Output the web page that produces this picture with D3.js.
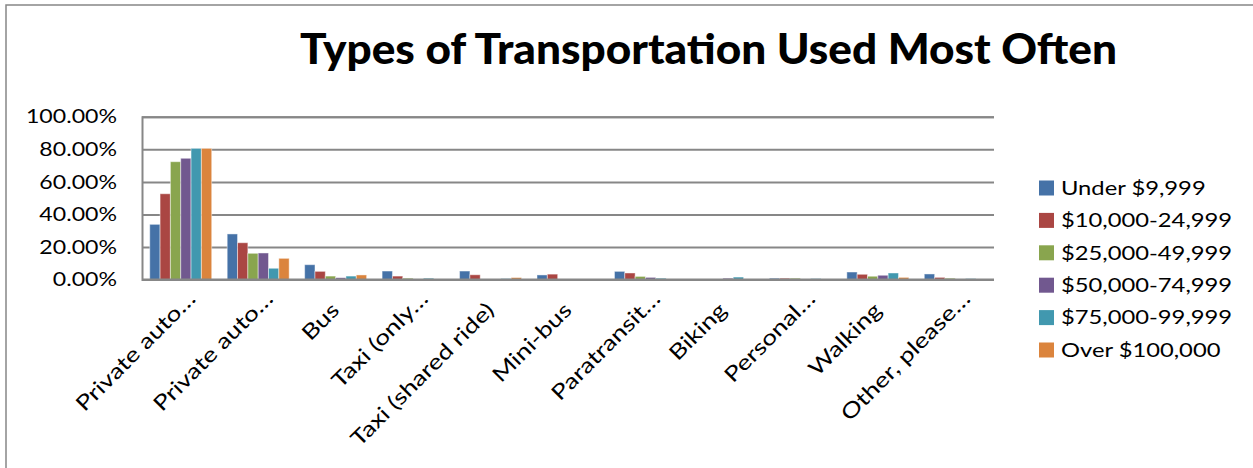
<!DOCTYPE html>
<html>
<head>
<meta charset="utf-8">
<script src="https://cdn.jsdelivr.net/npm/d3@7"></script>
<style>
  html, body { margin: 0; padding: 0; background: #fff; }
  svg { display: block; }
  text { font-family: Lato, "Noto Sans", sans-serif; fill: #000; }
</style>
</head>
<body>
<svg id="chart" width="1253" height="468"></svg>
<script>
// ---- data ----
const categories = ["Private auto…", "Private auto…", "Bus", "Taxi (only…", "Taxi (shared ride)",
  "Mini-bus", "Paratransit…", "Biking", "Personal…", "Walking", "Other, please…"];
const seriesNames = ["Under $9,999", "$10,000-24,999", "$25,000-49,999",
  "$50,000-74,999", "$75,000-99,999", "Over $100,000"];
const under10k   = [33.9, 28.0, 9.1, 5.2, 5.2, 2.8, 5.0, 0.0, 0.8, 4.6, 3.4];
const from10k    = [52.7, 22.6, 5.0, 2.1, 2.9, 3.3, 4.0, 0.0, 0.8, 3.2, 1.3];
const from25k    = [72.4, 16.1, 2.1, 0.8, 0.0, 0.0, 1.9, 0.3, 0.8, 2.0, 0.8];
const from50k    = [74.5, 16.3, 1.1, 0.0, 0.0, 0.0, 1.3, 0.8, 0.0, 2.6, 0.3];
const from75k    = [80.6, 6.9, 2.1, 0.8, 0.6, 0.0, 0.8, 1.5, 0.6, 4.0, 0.6];
const over100k   = [80.6, 13.0, 2.8, 0.0, 1.2, 0.0, 0.0, 0.0, 0.0, 1.3, 0.0];
const seriesValues = [under10k, from10k, from25k, from50k, from75k, over100k];
const yTicks = [0, 20, 40, 60, 80, 100];
const colors = ["#4572A7", "#AA4643", "#89A54E", "#71588F", "#4198AF", "#DB843D"];

// ---- layout ----
const svg = d3.select("#chart");
const plot = { left: 142, right: 994, top: 116.8, bottom: 279.5 };
const SX = 1.25;        // horizontal glyph stretch seen in the reference
const gridColor = "#878787";

// outer chart border (extends past the window at right/bottom)
svg.append("rect").attr("x", 6).attr("y", 5).attr("width", 1300).attr("height", 500)
  .attr("fill", "none").attr("stroke", gridColor).attr("stroke-width", 1.5);

// title
svg.append("text")
  .attr("x", 300).attr("y", 64)
  .attr("textLength", 817).attr("lengthAdjust", "spacingAndGlyphs")
  .style("font-size", "42px").style("font-weight", "900")
  .text("Types of Transportation Used Most Often");

const x0 = d3.scaleBand().domain(d3.range(categories.length))
  .range([plot.left, plot.right]).paddingInner(0).paddingOuter(0);
const gapRatio = 1.5; // Excel gap width 150%
const barW = x0.bandwidth() / (seriesNames.length + gapRatio);
const x1 = d3.scaleBand().domain(d3.range(seriesNames.length))
  .range([0, barW * seriesNames.length]);
const y = d3.scaleLinear().domain([0, 100]).range([plot.bottom, plot.top]);

// gridlines
const yAxis = d3.axisLeft(y).tickValues(yTicks).tickSize(-(plot.right - plot.left)).tickFormat("");
const gGrid = svg.append("g").attr("transform", `translate(${plot.left},0)`).call(yAxis);
gGrid.select(".domain").attr("stroke", gridColor).attr("stroke-width", 2);
gGrid.selectAll(".tick line").attr("stroke", gridColor).attr("stroke-width", 2);

// y tick labels
svg.append("g").selectAll("text").data(yTicks).join("text")
  .attr("transform", d => `translate(117,${y(d)}) scale(${SX},1)`)
  .attr("text-anchor", "end").attr("dy", "0.36em")
  .style("font-size", "18.5px")
  .text(d => d3.format(".2f")(d) + "%");

// bars
const groups = svg.append("g").selectAll("g").data(categories).join("g")
  .attr("transform", (d, i) => `translate(${x0(i) + (x0.bandwidth() - barW * seriesNames.length) / 2},0)`);
groups.selectAll("rect")
  .data((d, i) => seriesValues.map((vals, s) => ({ s, v: vals[i] })))
  .join("rect")
  .filter(d => d.v > 0)
  .attr("x", d => x1(d.s))
  .attr("width", x1.bandwidth())
  .attr("y", d => y(d.v))
  .attr("height", d => y(0) - y(d.v))
  .attr("fill", d => colors[d.s])
  .attr("stroke", "rgba(255,255,255,0.45)")
  .attr("stroke-width", 1);

// x axis line on top
svg.append("line").attr("x1", plot.left).attr("x2", plot.right)
  .attr("y1", y(0)).attr("y2", y(0)).attr("stroke", gridColor).attr("stroke-width", 2);

// category labels
const xAxis = d3.axisBottom(x0).tickSize(0).tickFormat(i => categories[i]);
const gX = svg.append("g").attr("transform", `translate(0,${plot.bottom})`).call(xAxis);
gX.select(".domain").remove();
gX.selectAll(".tick text")
  .attr("text-anchor", "end")
  .attr("y", 0).attr("dy", 0)
  .attr("transform", (i) => {
    const shift = categories[i].endsWith("…") ? 16 : 0;
    return `translate(5,32) rotate(-45) translate(${shift},0) scale(${SX},1)`;
  })
  .style("font-size", "21px").style("font-family", "Lato, 'Noto Sans', sans-serif").attr("fill", "#000");

// legend
const leg = svg.append("g").selectAll("g").data(seriesNames).join("g")
  .attr("transform", (d, i) => `translate(1039,${188 + i * 32.4})`);
leg.append("rect").attr("x", 0).attr("y", -7.5).attr("width", 15).attr("height", 15)
  .attr("fill", (d, i) => colors[i]);
leg.append("text").attr("transform", `translate(22,0) scale(${SX},1)`)
  .attr("dy", "0.36em").style("font-size", "19px").text(d => d);
</script>
</body>
</html>
